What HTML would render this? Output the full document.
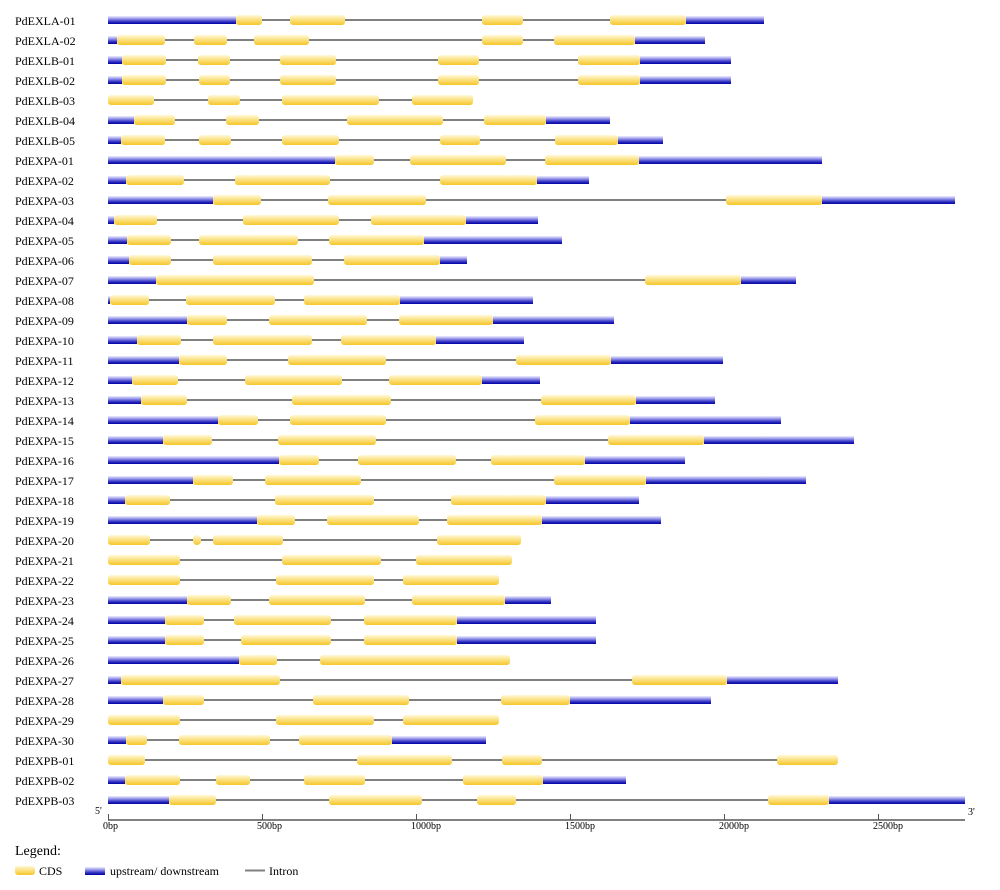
<!DOCTYPE html>
<html>
<head>
<meta charset="utf-8">
<style>
html,body{margin:0;padding:0;background:#fff;}
svg{display:block;}
text{font-family:"Liberation Serif","Times New Roman",serif;fill:#000;}
.lab{font-size:12px;}
.i{stroke:#808080;stroke-width:2;}
.u{fill:url(#gb);}
.c{fill:url(#gy);}
.tk{font-size:10px;}
</style>
</head>
<body>
<svg width="1000" height="890" viewBox="0 0 1000 890" xmlns="http://www.w3.org/2000/svg">
<defs>
<linearGradient id="gb" x1="0" y1="0" x2="0" y2="1">
<stop offset="0" stop-color="#f0f0ff"/>
<stop offset="0.35" stop-color="#9494ea"/>
<stop offset="0.7" stop-color="#3434c4"/>
<stop offset="1" stop-color="#0000a2"/>
</linearGradient>
<linearGradient id="gy" x1="0" y1="0" x2="0" y2="1">
<stop offset="0" stop-color="#fff8d8"/>
<stop offset="0.5" stop-color="#fbe07c"/>
<stop offset="1" stop-color="#f5c62a"/>
</linearGradient>
</defs>

<!-- Row 0 -->
<g transform="translate(0,20)"><text class="lab" x="15" y="5">PdEXLA-01</text>
<line class="i" x1="108" x2="764" y1="0" y2="0"/>
<rect class="u" x="108" width="128" y="-4" height="8"/><rect class="u" x="686" width="78" y="-4" height="8"/>
<rect class="c" x="236" width="26" y="-5" height="10" rx="3"/><rect class="c" x="290" width="55" y="-5" height="10" rx="3"/><rect class="c" x="482" width="41" y="-5" height="10" rx="3"/><rect class="c" x="610" width="76" y="-5" height="10" rx="3"/>
</g>
<!-- Row 1 -->
<g transform="translate(0,40)"><text class="lab" x="15" y="5">PdEXLA-02</text>
<line class="i" x1="108" x2="705" y1="0" y2="0"/>
<rect class="u" x="108" width="9" y="-4" height="8"/><rect class="u" x="635" width="70" y="-4" height="8"/>
<rect class="c" x="117" width="48" y="-5" height="10" rx="3"/><rect class="c" x="194" width="33" y="-5" height="10" rx="3"/><rect class="c" x="254" width="55" y="-5" height="10" rx="3"/><rect class="c" x="482" width="41" y="-5" height="10" rx="3"/><rect class="c" x="554" width="81" y="-5" height="10" rx="3"/>
</g>
<!-- Row 2 -->
<g transform="translate(0,60)"><text class="lab" x="15" y="5">PdEXLB-01</text>
<line class="i" x1="108" x2="731" y1="0" y2="0"/>
<rect class="u" x="108" width="14" y="-4" height="8"/><rect class="u" x="640" width="91" y="-4" height="8"/>
<rect class="c" x="122" width="44" y="-5" height="10" rx="3"/><rect class="c" x="198" width="32" y="-5" height="10" rx="3"/><rect class="c" x="280" width="56" y="-5" height="10" rx="3"/><rect class="c" x="438" width="41" y="-5" height="10" rx="3"/><rect class="c" x="578" width="62" y="-5" height="10" rx="3"/>
</g>
<!-- Row 3 -->
<g transform="translate(0,80)"><text class="lab" x="15" y="5">PdEXLB-02</text>
<line class="i" x1="108" x2="731" y1="0" y2="0"/>
<rect class="u" x="108" width="14" y="-4" height="8"/><rect class="u" x="640" width="91" y="-4" height="8"/>
<rect class="c" x="122" width="44" y="-5" height="10" rx="3"/><rect class="c" x="199" width="31" y="-5" height="10" rx="3"/><rect class="c" x="280" width="56" y="-5" height="10" rx="3"/><rect class="c" x="438" width="41" y="-5" height="10" rx="3"/><rect class="c" x="578" width="62" y="-5" height="10" rx="3"/>
</g>
<!-- Row 4 -->
<g transform="translate(0,100)"><text class="lab" x="15" y="5">PdEXLB-03</text>
<line class="i" x1="108" x2="473" y1="0" y2="0"/>
<rect class="c" x="108" width="46" y="-5" height="10" rx="3"/><rect class="c" x="208" width="32" y="-5" height="10" rx="3"/><rect class="c" x="282" width="97" y="-5" height="10" rx="3"/><rect class="c" x="412" width="61" y="-5" height="10" rx="3"/>
</g>
<!-- Row 5 -->
<g transform="translate(0,120)"><text class="lab" x="15" y="5">PdEXLB-04</text>
<line class="i" x1="108" x2="610" y1="0" y2="0"/>
<rect class="u" x="108" width="26" y="-4" height="8"/><rect class="u" x="546" width="64" y="-4" height="8"/>
<rect class="c" x="134" width="41" y="-5" height="10" rx="3"/><rect class="c" x="226" width="33" y="-5" height="10" rx="3"/><rect class="c" x="347" width="96" y="-5" height="10" rx="3"/><rect class="c" x="484" width="62" y="-5" height="10" rx="3"/>
</g>
<!-- Row 6 -->
<g transform="translate(0,140)"><text class="lab" x="15" y="5">PdEXLB-05</text>
<line class="i" x1="108" x2="663" y1="0" y2="0"/>
<rect class="u" x="108" width="13" y="-4" height="8"/><rect class="u" x="618" width="45" y="-4" height="8"/>
<rect class="c" x="121" width="44" y="-5" height="10" rx="3"/><rect class="c" x="199" width="32" y="-5" height="10" rx="3"/><rect class="c" x="282" width="57" y="-5" height="10" rx="3"/><rect class="c" x="440" width="40" y="-5" height="10" rx="3"/><rect class="c" x="555" width="63" y="-5" height="10" rx="3"/>
</g>
<!-- Row 7 -->
<g transform="translate(0,160)"><text class="lab" x="15" y="5">PdEXPA-01</text>
<line class="i" x1="108" x2="822" y1="0" y2="0"/>
<rect class="u" x="108" width="227" y="-4" height="8"/><rect class="u" x="639" width="183" y="-4" height="8"/>
<rect class="c" x="335" width="39" y="-5" height="10" rx="3"/><rect class="c" x="410" width="96" y="-5" height="10" rx="3"/><rect class="c" x="545" width="94" y="-5" height="10" rx="3"/>
</g>
<!-- Row 8 -->
<g transform="translate(0,180)"><text class="lab" x="15" y="5">PdEXPA-02</text>
<line class="i" x1="108" x2="589" y1="0" y2="0"/>
<rect class="u" x="108" width="18" y="-4" height="8"/><rect class="u" x="537" width="52" y="-4" height="8"/>
<rect class="c" x="126" width="58" y="-5" height="10" rx="3"/><rect class="c" x="235" width="95" y="-5" height="10" rx="3"/><rect class="c" x="440" width="97" y="-5" height="10" rx="3"/>
</g>
<!-- Row 9 -->
<g transform="translate(0,200)"><text class="lab" x="15" y="5">PdEXPA-03</text>
<line class="i" x1="108" x2="955" y1="0" y2="0"/>
<rect class="u" x="108" width="105" y="-4" height="8"/><rect class="u" x="822" width="133" y="-4" height="8"/>
<rect class="c" x="213" width="48" y="-5" height="10" rx="3"/><rect class="c" x="328" width="98" y="-5" height="10" rx="3"/><rect class="c" x="726" width="96" y="-5" height="10" rx="3"/>
</g>
<!-- Row 10 -->
<g transform="translate(0,220)"><text class="lab" x="15" y="5">PdEXPA-04</text>
<line class="i" x1="108" x2="538" y1="0" y2="0"/>
<rect class="u" x="108" width="6" y="-4" height="8"/><rect class="u" x="466" width="72" y="-4" height="8"/>
<rect class="c" x="114" width="43" y="-5" height="10" rx="3"/><rect class="c" x="243" width="96" y="-5" height="10" rx="3"/><rect class="c" x="371" width="95" y="-5" height="10" rx="3"/>
</g>
<!-- Row 11 -->
<g transform="translate(0,240)"><text class="lab" x="15" y="5">PdEXPA-05</text>
<line class="i" x1="108" x2="562" y1="0" y2="0"/>
<rect class="u" x="108" width="19" y="-4" height="8"/><rect class="u" x="424" width="138" y="-4" height="8"/>
<rect class="c" x="127" width="44" y="-5" height="10" rx="3"/><rect class="c" x="199" width="99" y="-5" height="10" rx="3"/><rect class="c" x="329" width="95" y="-5" height="10" rx="3"/>
</g>
<!-- Row 12 -->
<g transform="translate(0,260)"><text class="lab" x="15" y="5">PdEXPA-06</text>
<line class="i" x1="108" x2="467" y1="0" y2="0"/>
<rect class="u" x="108" width="21" y="-4" height="8"/><rect class="u" x="440" width="27" y="-4" height="8"/>
<rect class="c" x="129" width="42" y="-5" height="10" rx="3"/><rect class="c" x="213" width="99" y="-5" height="10" rx="3"/><rect class="c" x="344" width="96" y="-5" height="10" rx="3"/>
</g>
<!-- Row 13 -->
<g transform="translate(0,280)"><text class="lab" x="15" y="5">PdEXPA-07</text>
<line class="i" x1="108" x2="796" y1="0" y2="0"/>
<rect class="u" x="108" width="48" y="-4" height="8"/><rect class="u" x="741" width="55" y="-4" height="8"/>
<rect class="c" x="156" width="158" y="-5" height="10" rx="3"/><rect class="c" x="645" width="96" y="-5" height="10" rx="3"/>
</g>
<!-- Row 14 -->
<g transform="translate(0,300)"><text class="lab" x="15" y="5">PdEXPA-08</text>
<line class="i" x1="108" x2="533" y1="0" y2="0"/>
<rect class="u" x="108" width="2" y="-4" height="8"/><rect class="u" x="400" width="133" y="-4" height="8"/>
<rect class="c" x="110" width="39" y="-5" height="10" rx="3"/><rect class="c" x="186" width="89" y="-5" height="10" rx="3"/><rect class="c" x="304" width="96" y="-5" height="10" rx="3"/>
</g>
<!-- Row 15 -->
<g transform="translate(0,320)"><text class="lab" x="15" y="5">PdEXPA-09</text>
<line class="i" x1="108" x2="614" y1="0" y2="0"/>
<rect class="u" x="108" width="79" y="-4" height="8"/><rect class="u" x="493" width="121" y="-4" height="8"/>
<rect class="c" x="187" width="40" y="-5" height="10" rx="3"/><rect class="c" x="269" width="98" y="-5" height="10" rx="3"/><rect class="c" x="399" width="94" y="-5" height="10" rx="3"/>
</g>
<!-- Row 16 -->
<g transform="translate(0,340)"><text class="lab" x="15" y="5">PdEXPA-10</text>
<line class="i" x1="108" x2="524" y1="0" y2="0"/>
<rect class="u" x="108" width="29" y="-4" height="8"/><rect class="u" x="436" width="88" y="-4" height="8"/>
<rect class="c" x="137" width="44" y="-5" height="10" rx="3"/><rect class="c" x="213" width="99" y="-5" height="10" rx="3"/><rect class="c" x="341" width="95" y="-5" height="10" rx="3"/>
</g>
<!-- Row 17 -->
<g transform="translate(0,360)"><text class="lab" x="15" y="5">PdEXPA-11</text>
<line class="i" x1="108" x2="723" y1="0" y2="0"/>
<rect class="u" x="108" width="71" y="-4" height="8"/><rect class="u" x="611" width="112" y="-4" height="8"/>
<rect class="c" x="179" width="48" y="-5" height="10" rx="3"/><rect class="c" x="288" width="98" y="-5" height="10" rx="3"/><rect class="c" x="516" width="95" y="-5" height="10" rx="3"/>
</g>
<!-- Row 18 -->
<g transform="translate(0,380)"><text class="lab" x="15" y="5">PdEXPA-12</text>
<line class="i" x1="108" x2="540" y1="0" y2="0"/>
<rect class="u" x="108" width="24" y="-4" height="8"/><rect class="u" x="482" width="58" y="-4" height="8"/>
<rect class="c" x="132" width="46" y="-5" height="10" rx="3"/><rect class="c" x="245" width="97" y="-5" height="10" rx="3"/><rect class="c" x="389" width="93" y="-5" height="10" rx="3"/>
</g>
<!-- Row 19 -->
<g transform="translate(0,400)"><text class="lab" x="15" y="5">PdEXPA-13</text>
<line class="i" x1="108" x2="715" y1="0" y2="0"/>
<rect class="u" x="108" width="33" y="-4" height="8"/><rect class="u" x="636" width="79" y="-4" height="8"/>
<rect class="c" x="141" width="46" y="-5" height="10" rx="3"/><rect class="c" x="292" width="99" y="-5" height="10" rx="3"/><rect class="c" x="541" width="95" y="-5" height="10" rx="3"/>
</g>
<!-- Row 20 -->
<g transform="translate(0,420)"><text class="lab" x="15" y="5">PdEXPA-14</text>
<line class="i" x1="108" x2="781" y1="0" y2="0"/>
<rect class="u" x="108" width="110" y="-4" height="8"/><rect class="u" x="630" width="151" y="-4" height="8"/>
<rect class="c" x="218" width="40" y="-5" height="10" rx="3"/><rect class="c" x="290" width="96" y="-5" height="10" rx="3"/><rect class="c" x="535" width="95" y="-5" height="10" rx="3"/>
</g>
<!-- Row 21 -->
<g transform="translate(0,440)"><text class="lab" x="15" y="5">PdEXPA-15</text>
<line class="i" x1="108" x2="854" y1="0" y2="0"/>
<rect class="u" x="108" width="55" y="-4" height="8"/><rect class="u" x="704" width="150" y="-4" height="8"/>
<rect class="c" x="163" width="49" y="-5" height="10" rx="3"/><rect class="c" x="278" width="98" y="-5" height="10" rx="3"/><rect class="c" x="608" width="96" y="-5" height="10" rx="3"/>
</g>
<!-- Row 22 -->
<g transform="translate(0,460)"><text class="lab" x="15" y="5">PdEXPA-16</text>
<line class="i" x1="108" x2="685" y1="0" y2="0"/>
<rect class="u" x="108" width="171" y="-4" height="8"/><rect class="u" x="585" width="100" y="-4" height="8"/>
<rect class="c" x="279" width="40" y="-5" height="10" rx="3"/><rect class="c" x="358" width="98" y="-5" height="10" rx="3"/><rect class="c" x="491" width="94" y="-5" height="10" rx="3"/>
</g>
<!-- Row 23 -->
<g transform="translate(0,480)"><text class="lab" x="15" y="5">PdEXPA-17</text>
<line class="i" x1="108" x2="806" y1="0" y2="0"/>
<rect class="u" x="108" width="85" y="-4" height="8"/><rect class="u" x="646" width="160" y="-4" height="8"/>
<rect class="c" x="193" width="40" y="-5" height="10" rx="3"/><rect class="c" x="265" width="96" y="-5" height="10" rx="3"/><rect class="c" x="554" width="92" y="-5" height="10" rx="3"/>
</g>
<!-- Row 24 -->
<g transform="translate(0,500)"><text class="lab" x="15" y="5">PdEXPA-18</text>
<line class="i" x1="108" x2="639" y1="0" y2="0"/>
<rect class="u" x="108" width="17" y="-4" height="8"/><rect class="u" x="546" width="93" y="-4" height="8"/>
<rect class="c" x="125" width="45" y="-5" height="10" rx="3"/><rect class="c" x="275" width="99" y="-5" height="10" rx="3"/><rect class="c" x="451" width="95" y="-5" height="10" rx="3"/>
</g>
<!-- Row 25 -->
<g transform="translate(0,520)"><text class="lab" x="15" y="5">PdEXPA-19</text>
<line class="i" x1="108" x2="661" y1="0" y2="0"/>
<rect class="u" x="108" width="149" y="-4" height="8"/><rect class="u" x="542" width="119" y="-4" height="8"/>
<rect class="c" x="257" width="38" y="-5" height="10" rx="3"/><rect class="c" x="327" width="92" y="-5" height="10" rx="3"/><rect class="c" x="447" width="95" y="-5" height="10" rx="3"/>
</g>
<!-- Row 26 -->
<g transform="translate(0,540)"><text class="lab" x="15" y="5">PdEXPA-20</text>
<line class="i" x1="108" x2="521" y1="0" y2="0"/>
<rect class="c" x="108" width="42" y="-5" height="10" rx="3"/><rect class="c" x="193" width="8" y="-5" height="10" rx="4"/><rect class="c" x="213" width="70" y="-5" height="10" rx="3"/><rect class="c" x="437" width="84" y="-5" height="10" rx="3"/>
</g>
<!-- Row 27 -->
<g transform="translate(0,560)"><text class="lab" x="15" y="5">PdEXPA-21</text>
<line class="i" x1="108" x2="512" y1="0" y2="0"/>
<rect class="c" x="108" width="72" y="-5" height="10" rx="3"/><rect class="c" x="282" width="99" y="-5" height="10" rx="3"/><rect class="c" x="416" width="96" y="-5" height="10" rx="3"/>
</g>
<!-- Row 28 -->
<g transform="translate(0,580)"><text class="lab" x="15" y="5">PdEXPA-22</text>
<line class="i" x1="108" x2="499" y1="0" y2="0"/>
<rect class="c" x="108" width="72" y="-5" height="10" rx="3"/><rect class="c" x="276" width="98" y="-5" height="10" rx="3"/><rect class="c" x="403" width="96" y="-5" height="10" rx="3"/>
</g>
<!-- Row 29 -->
<g transform="translate(0,600)"><text class="lab" x="15" y="5">PdEXPA-23</text>
<line class="i" x1="108" x2="551" y1="0" y2="0"/>
<rect class="u" x="108" width="79" y="-4" height="8"/><rect class="u" x="505" width="46" y="-4" height="8"/>
<rect class="c" x="187" width="44" y="-5" height="10" rx="3"/><rect class="c" x="269" width="96" y="-5" height="10" rx="3"/><rect class="c" x="412" width="93" y="-5" height="10" rx="3"/>
</g>
<!-- Row 30 -->
<g transform="translate(0,620)"><text class="lab" x="15" y="5">PdEXPA-24</text>
<line class="i" x1="108" x2="596" y1="0" y2="0"/>
<rect class="u" x="108" width="57" y="-4" height="8"/><rect class="u" x="457" width="139" y="-4" height="8"/>
<rect class="c" x="165" width="39" y="-5" height="10" rx="3"/><rect class="c" x="234" width="97" y="-5" height="10" rx="3"/><rect class="c" x="364" width="93" y="-5" height="10" rx="3"/>
</g>
<!-- Row 31 -->
<g transform="translate(0,640)"><text class="lab" x="15" y="5">PdEXPA-25</text>
<line class="i" x1="108" x2="596" y1="0" y2="0"/>
<rect class="u" x="108" width="57" y="-4" height="8"/><rect class="u" x="457" width="139" y="-4" height="8"/>
<rect class="c" x="165" width="39" y="-5" height="10" rx="3"/><rect class="c" x="241" width="90" y="-5" height="10" rx="3"/><rect class="c" x="364" width="93" y="-5" height="10" rx="3"/>
</g>
<!-- Row 32 -->
<g transform="translate(0,660)"><text class="lab" x="15" y="5">PdEXPA-26</text>
<line class="i" x1="108" x2="510" y1="0" y2="0"/>
<rect class="u" x="108" width="131" y="-4" height="8"/>
<rect class="c" x="239" width="38" y="-5" height="10" rx="3"/><rect class="c" x="320" width="190" y="-5" height="10" rx="3"/>
</g>
<!-- Row 33 -->
<g transform="translate(0,680)"><text class="lab" x="15" y="5">PdEXPA-27</text>
<line class="i" x1="108" x2="838" y1="0" y2="0"/>
<rect class="u" x="108" width="13" y="-4" height="8"/><rect class="u" x="727" width="111" y="-4" height="8"/>
<rect class="c" x="121" width="159" y="-5" height="10" rx="3"/><rect class="c" x="632" width="95" y="-5" height="10" rx="3"/>
</g>
<!-- Row 34 -->
<g transform="translate(0,700)"><text class="lab" x="15" y="5">PdEXPA-28</text>
<line class="i" x1="108" x2="711" y1="0" y2="0"/>
<rect class="u" x="108" width="55" y="-4" height="8"/><rect class="u" x="570" width="141" y="-4" height="8"/>
<rect class="c" x="163" width="41" y="-5" height="10" rx="3"/><rect class="c" x="313" width="96" y="-5" height="10" rx="3"/><rect class="c" x="501" width="69" y="-5" height="10" rx="3"/>
</g>
<!-- Row 35 -->
<g transform="translate(0,720)"><text class="lab" x="15" y="5">PdEXPA-29</text>
<line class="i" x1="108" x2="499" y1="0" y2="0"/>
<rect class="c" x="108" width="72" y="-5" height="10" rx="3"/><rect class="c" x="276" width="98" y="-5" height="10" rx="3"/><rect class="c" x="403" width="96" y="-5" height="10" rx="3"/>
</g>
<!-- Row 36 -->
<g transform="translate(0,740)"><text class="lab" x="15" y="5">PdEXPA-30</text>
<line class="i" x1="108" x2="486" y1="0" y2="0"/>
<rect class="u" x="108" width="18" y="-4" height="8"/><rect class="u" x="392" width="94" y="-4" height="8"/>
<rect class="c" x="126" width="21" y="-5" height="10" rx="3"/><rect class="c" x="179" width="91" y="-5" height="10" rx="3"/><rect class="c" x="299" width="93" y="-5" height="10" rx="3"/>
</g>
<!-- Row 37 -->
<g transform="translate(0,760)"><text class="lab" x="15" y="5">PdEXPB-01</text>
<line class="i" x1="108" x2="838" y1="0" y2="0"/>
<rect class="c" x="108" width="37" y="-5" height="10" rx="3"/><rect class="c" x="357" width="95" y="-5" height="10" rx="3"/><rect class="c" x="502" width="40" y="-5" height="10" rx="3"/><rect class="c" x="777" width="61" y="-5" height="10" rx="3"/>
</g>
<!-- Row 38 -->
<g transform="translate(0,780)"><text class="lab" x="15" y="5">PdEXPB-02</text>
<line class="i" x1="108" x2="626" y1="0" y2="0"/>
<rect class="u" x="108" width="17" y="-4" height="8"/><rect class="u" x="543" width="83" y="-4" height="8"/>
<rect class="c" x="125" width="55" y="-5" height="10" rx="3"/><rect class="c" x="216" width="34" y="-5" height="10" rx="3"/><rect class="c" x="304" width="61" y="-5" height="10" rx="3"/><rect class="c" x="463" width="80" y="-5" height="10" rx="3"/>
</g>
<!-- Row 39 -->
<g transform="translate(0,800)"><text class="lab" x="15" y="5">PdEXPB-03</text>
<line class="i" x1="108" x2="965" y1="0" y2="0"/>
<rect class="u" x="108" width="61" y="-4" height="8"/><rect class="u" x="829" width="136" y="-4" height="8"/>
<rect class="c" x="169" width="47" y="-5" height="10" rx="3"/><rect class="c" x="329" width="93" y="-5" height="10" rx="3"/><rect class="c" x="477" width="39" y="-5" height="10" rx="3"/><rect class="c" x="768" width="61" y="-5" height="10" rx="3"/>
</g>

<!-- Axis -->
<text class="tk" x="95" y="814">5'</text>
<text class="tk" x="968" y="815">3'</text>
<line x1="108" x2="965" y1="820" y2="820" stroke="#808080" stroke-width="2"/>
<g stroke="#555" stroke-width="1">
<line x1="108.5" x2="108.5" y1="814" y2="820"/>
<line x1="262.5" x2="262.5" y1="814" y2="820"/>
<line x1="416.5" x2="416.5" y1="814" y2="820"/>
<line x1="570.5" x2="570.5" y1="814" y2="820"/>
<line x1="724.5" x2="724.5" y1="814" y2="820"/>
<line x1="878.5" x2="878.5" y1="814" y2="820"/>
</g>
<text class="tk" x="103" y="829">0bp</text>
<text class="tk" x="257" y="829">500bp</text>
<text class="tk" x="411" y="829">1000bp</text>
<text class="tk" x="565" y="829">1500bp</text>
<text class="tk" x="719" y="829">2000bp</text>
<text class="tk" x="873" y="829">2500bp</text>

<!-- Legend -->
<text x="15" y="855" style="font-size:14px">Legend:</text>
<rect class="c" x="15" y="866" width="20" height="9" rx="3"/>
<text class="lab" x="39" y="875">CDS</text>
<rect class="u" x="85" y="867" width="20" height="8"/>
<text class="lab" x="110" y="875">upstream/ downstream</text>
<line x1="245" x2="265" y1="870.5" y2="870.5" stroke="#808080" stroke-width="2"/>
<text class="lab" x="269" y="875">Intron</text>
</svg>
</body>
</html>
